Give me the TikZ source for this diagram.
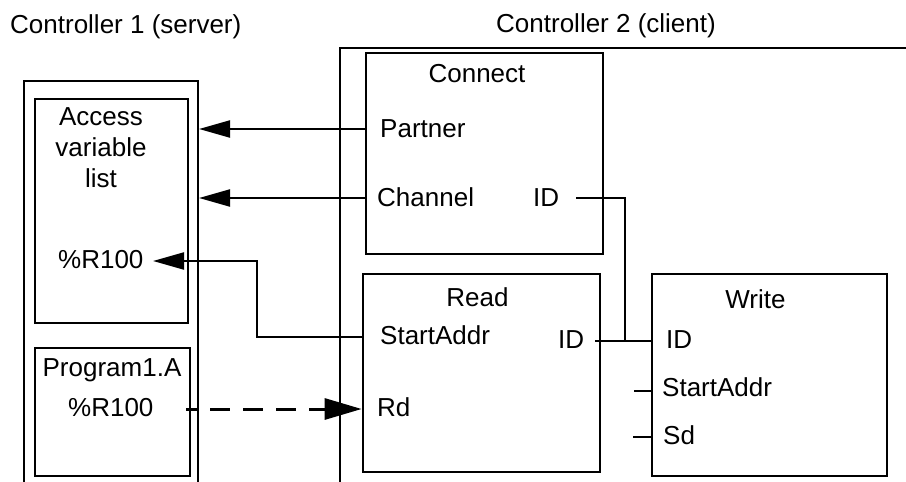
\documentclass[tikz,border=0pt]{standalone}
\usepackage{fontspec}
\setmainfont{Liberation Sans}
\usetikzlibrary{arrows.meta}

\begin{document}
\begin{tikzpicture}[x=1pt,y=-1pt]
    \tikzset{
        box/.style = {draw, line width=2.7pt, inner sep=0pt},
        frame/.style = {line width=2.7pt},
        wire/.style = {line width=2.2pt},
        arr/.style = {wire, -{Triangle[length=31pt,width=17pt]}},
        darr/.style = {line width=3pt, dash pattern=on 20pt off 13pt, dash phase=9pt,
                       -{Triangle[length=37pt,width=21pt]}},
        lbl/.style = {anchor=base west, inner sep=0pt, font=\fontsize{26}{30}\selectfont},
        clbl/.style = {anchor=base, inner sep=0pt, font=\fontsize{26}{30}\selectfont}
    }
    \useasboundingbox (0,0) rectangle (906,482);
    % controllers
    \node[lbl] (ctlA) at (10,33) {Controller 1 (server)};
    \node[lbl] (ctlB) at (496,32) {Controller 2 (client)};
    \draw[frame] (24,482) -- (24,81) -- (198,81) -- (198,482);
    \draw[frame] (340,482) -- (340,48) -- (906,48);
    \coordinate (c1e) at (199,0);
    % blocks
    \node[box, minimum width=153pt, minimum height=224pt] (acc) at (111.5,211) {};
    \node[box, minimum width=155pt, minimum height=128pt] (prg) at (112.5,412) {};
    \node[box, minimum width=237pt, minimum height=201pt] (cn) at (484.5,153.5) {};
    \node[box, minimum width=237pt, minimum height=198pt] (rd) at (481.5,373) {};
    \node[box, minimum width=235pt, minimum height=202pt] (wr) at (769.5,375) {};
    % texts
    \node[clbl] (accA) at (101,125) {Access};
    \node[clbl] (accB) at (101,156) {variable};
    \node[clbl] (accC) at (101,187) {list};
    \node[lbl] (accR) at (58,268) {\%R100};
    \node[clbl] (prgT) at (112,376) {Program1.A};
    \node[lbl] (prgR) at (68,416) {\%R100};
    \node[clbl] (cnT) at (477,82) {Connect};
    \node[lbl] (cnP) at (380,137) {Partner};
    \node[lbl] (cnC) at (377,206) {Channel};
    \node[lbl] (cnI) at (533,206) {ID};
    \node[clbl] (rdT) at (477.5,306) {Read};
    \node[lbl] (rdS) at (380,344) {StartAddr};
    \node[lbl] (rdI) at (558,348) {ID};
    \node[lbl] (rdD) at (377,416) {Rd};
    \node[clbl] (wrT) at (755.5,308) {Write};
    \node[lbl] (wrI) at (666,348) {ID};
    \node[lbl] (wrS) at (662,396) {StartAddr};
    \node[lbl] (wrD) at (663,444) {Sd};
    % ports
    \coordinate (pP) at (cn.west |- 0,129);
    \coordinate (pC) at (cn.west |- 0,198);
    \coordinate (pI) at (576,198);
    \coordinate (pJ) at (625,341);
    \coordinate (pR) at (153,261);
    \coordinate (pK) at (257,0);
    \coordinate (pS) at (rd.west |- 0,337);
    \coordinate (pD) at (rd.west |- 0,409);
    \coordinate (pG) at (186,409);
    \coordinate (qI) at (595,341);
    \coordinate (qS) at (634,391);
    \coordinate (qD) at (633,437);
    % connectors
    \draw[arr] (pP) -- (pP -| c1e);
    \draw[arr] (pC) -- (pC -| c1e);
    \draw[wire] (pI) -| (pJ);
    \draw[wire] (qI) -- (wr.west |- qI);
    \draw[arr] (pS) -| (pR -| pK) -- (pR);
    \draw[darr] (pG) -- (pD);
    \draw[wire] (qS) -- (wr.west |- qS);
    \draw[wire] (qD) -- (wr.west |- qD);
\end{tikzpicture}
\end{document}
